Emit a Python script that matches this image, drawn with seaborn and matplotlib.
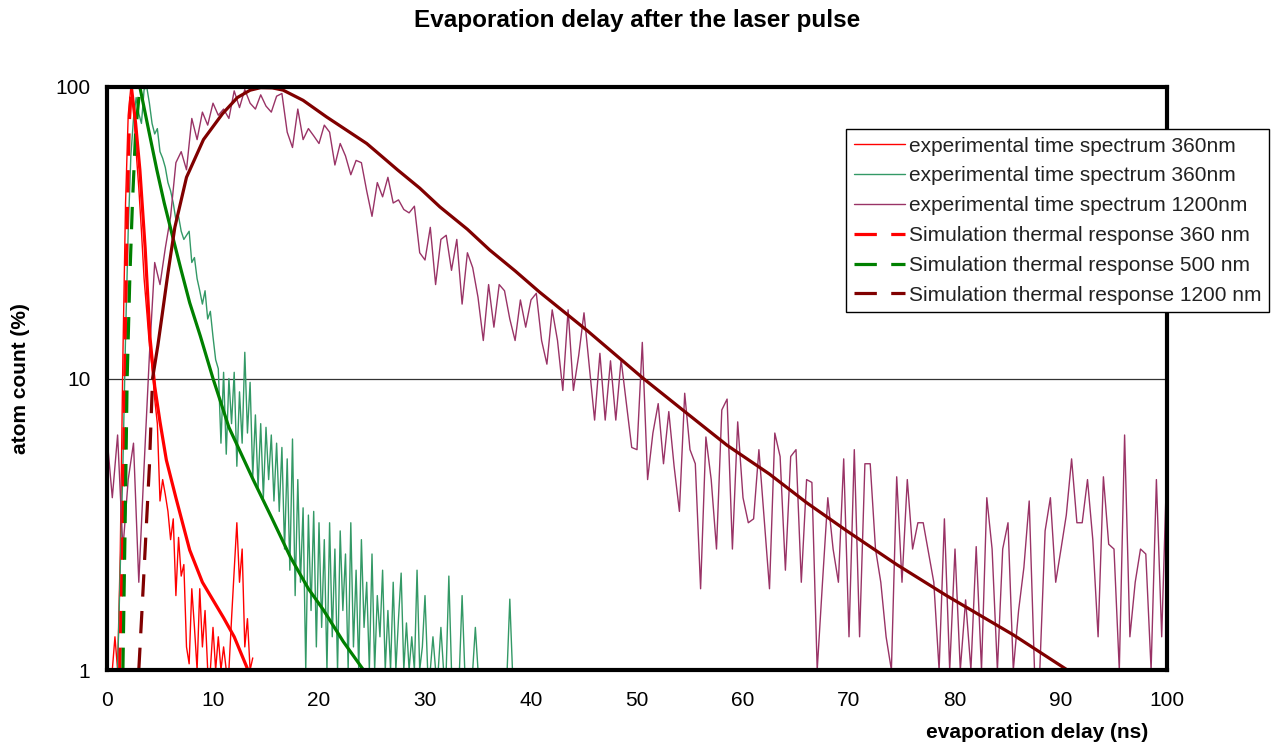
import numpy as np
import pandas as pd
import matplotlib
matplotlib.use("Agg")
import matplotlib.pyplot as plt
import seaborn as sns
from matplotlib.ticker import MultipleLocator, FuncFormatter, FixedLocator, NullLocator

# ---------------- data ----------------
nan = np.nan
# experimental time spectrum 360nm (red), 0.25 ns bins from 0 ns
t_red = np.arange(0, 13.76, 0.25)
exp_red = [nan, nan, 1.0, 1.3,
           1.0, 2.5, 12, 40,
           80, 100, 85, 60,
           45, 32, 22, 17,
           13, 11, 8.5, 7.0,
           3.8, 4.5, 4.0, 3.5,
           2.8, 3.3, 1.8, 2.85,
           2.1, 2.3, 1.2, 1.05,
           1.9, 1.4, 1.0, 1.9,
           1.2, 1.6, 1.0, 1.0,
           1.4, 1.0, 1.3, 1.0,
           1.2, 1.0, 1.0, 1.5,
           2.2, 3.2, 2.0, 2.6,
           1.2, 1.5, 1.0, 1.1]

# experimental time spectrum (green), 0.25 ns bins from 0 ns
t_green = np.arange(0, 38.51, 0.25)
exp_green = [nan, nan, nan, nan,
             1.0, 2.2, 5, 14,
             32, 58, 78, 92,
             81, 75, 98, 100,
             88, 75, 69, 72,
             60, 57, 53, 47,
             44, 40, 35, 36,
             32, 30, 31, 32,
             25, 26, 22, 20,
             18, 20, 16, 17,
             13.9, 11.6, 10.8, 6.0,
             10.5, 5.5, 10, 7,
             10.5, 5.0, 9.0, 6,
             12.3, 6.5, 9.7, 4.6,
             7.5, 4.2, 7.0, 3.9,
             6.8, 4.5, 6.4, 3.8,
             6.0, 3.5, 5.8, 2.6,
             5.3, 2.2, 6.2, 1.8,
             4.5, 2.0, 3.6, 1.0,
             3.4, 1.6, 3.5, 1.2,
             3.2, 1.4, 2.8, 1.0,
             3.2, 1.3, 2.6, 1.0,
             3.0, 1.6, 2.5, 1.0,
             3.2, 1.2, 2.2, 1.0,
             2.8, 1.4, 2.0, 1.0,
             2.5, 1.0, 1.8, 1.3,
             2.2, 1.0, 1.6, 1.0,
             2.0, 1.0, 1.5, 2.15,
             1.0, 1.45, 1.0, 1.3,
             1.0, 2.2, 1.0, 1.2,
             1.8, 1.0, 1.0, 1.3,
             1.0, 1.0, 1.4, 1.0,
             1.0, 2.1, 1.0, 1.0,
             1.0, 1.0, 1.8, 1.0,
             1.0, 1.0, 1.0, 1.4,
             1.0, 1.0, 1.0, 1.0,
             1.0, 1.0, 1.0, 1.0,
             1.0, 1.0, 1.0, 1.0,
             1.75, 1.0, 1.0]

# experimental time spectrum 1200nm (purple), 0.5 ns bins from 0 ns
t_mag = np.arange(0, 100.01, 0.5)
exp_mag = [6.3, 3.9, 6.4, 2.6, 4.5, 6.0, 2.0, 5.0, 12, 25,
           21, 28, 36, 55, 60, 52, 78, 66, 82, 74, 88,
           80, 84, 78, 97, 85, 98, 88, 84, 94, 86,
           82, 93, 95, 70, 62, 84, 66, 72, 68, 64,
           74, 70, 54, 64, 58, 50, 56, 55, 44, 36,
           47, 42, 49, 40, 41, 38, 37, 39, 27, 25.5,
           33, 21, 30, 31, 23.5, 30, 18, 27, 24, 19,
           13.5, 21, 15, 21, 20, 16, 13.5, 18.6, 15, 18.6,
           19.6, 13.5, 11.2, 17.2, 13.5, 9.1, 17.2, 9.1, 12, 16.8,
           11, 7.2, 12.2, 7.2, 11.5, 7.2, 11.6, 8.2, 5.8, 5.7,
           13.3, 4.5, 6.5, 8.2, 5.1, 7.7, 5.0, 3.5, 8.9, 5.7,
           5.1, 1.9, 6.3, 4.5, 2.6, 7.8, 8.5, 2.6, 7.1, 3.9,
           3.2, 3.3, 5.7, 3.3, 1.9, 6.5, 5.4, 2.2, 5.4, 5.7,
           2.0, 4.5, 4.4, 1.0, 2.0, 3.9, 2.6, 2.0, 5.3, 1.3,
           5.7, 1.3, 5.1, 5.1, 2.6, 2.0, 1.3, 1.0, 4.6, 2.0,
           4.5, 2.6, 3.2, 3.2, nan, 2.0, 1.0, 3.3, 1.0, 2.6,
           1.0, 1.74, 1.0, 2.65, 1.0, 3.9, 2.6, 1.0, 2.6, 3.2,
           1.0, 1.6, 2.25, 3.8, 1.0, 1.0, 3.0, 3.9, 2.0, 2.6,
           3.4, 5.3, 3.2, 3.2, 4.5, 2.8, 1.3, 4.6, 2.7, 2.6,
           1.0, 6.4, 1.3, 2.0, 2.6, 2.5, 1.0, 4.5, 1.3, 5.3]

# simulated thermal responses: rising edge and decay
sim360_rise_t = [1.2, 1.5, 1.7, 1.9, 2.1, 2.3]
sim360_rise_v = [1, 3, 12, 35, 75, 100]
sim360_dec_t = [2.3, 2.7, 3.1, 3.6, 4.05, 4.5, 5.0, 5.6, 6.5, 7.8, 9.0, 11.0, 12.0, 13.3]
sim360_dec_v = [100, 75, 52, 28, 13.9, 9.4, 7.1, 5.25, 3.9, 2.58, 2.0, 1.51, 1.3, 1.0]

sim500_rise_t = [1.5, 1.7, 1.9, 2.15, 2.4, 2.7, 3.1]
sim500_rise_v = [1, 3, 10, 22, 40, 70, 100]
sim500_dec_t = [3.1, 3.9, 4.7, 5.4, 6.2, 7.0, 7.8, 8.8, 10.0, 11.5, 13.8, 15.5, 17.3, 19.0, 20.4, 22.3, 24.2]
sim500_dec_v = [100, 72, 52, 40, 30.6, 23.5, 18.2, 14, 10, 6.8, 4.49, 3.35, 2.44, 1.9, 1.61, 1.25, 1.0]

sim1200_rise_t = [3.0, 3.3, 3.6, 4.0, 4.3]
sim1200_rise_v = [1, 1.6, 2.6, 5, 10]
sim1200_dec_t = [4.3, 4.8, 5.2, 5.75, 6.4, 7.5, 9.1, 10.9, 12.3, 13.5, 14.5, 15.6, 16.6, 18.5,
                 20.7, 22.5, 24.5, 26.0, 27.4, 29.5, 31.4, 34.0, 36.1, 38.5, 40.8, 45.3, 50.6,
                 54.7, 58.5, 62.5, 66.0, 69.8, 74.5, 79.2, 85.5, 90.6]
sim1200_dec_v = [10, 13, 16.5, 23, 33, 49, 66, 81, 92, 97.5, 99.5, 99.3, 97.6, 90,
                 79, 71.5, 64, 57.5, 52, 45, 38.8, 32.5, 27.6, 23.4, 19.8, 14.6, 10.0,
                 7.6, 5.9, 4.7, 3.75, 3.0, 2.3, 1.8, 1.32, 1.0]

labels = ["experimental time spectrum 360nm",
          "experimental time spectrum 360nm",
          "experimental time spectrum 1200nm",
          "Simulation thermal response 360 nm",
          "Simulation thermal response 500 nm",
          "Simulation thermal response 1200 nm"]
x_ticks_major = 5
y_ticks = [1, 10, 100]

# ---------------- style ----------------
sns.set_style("white")
plt.rcParams["font.family"] = ["Liberation Sans", "DejaVu Sans"]
plt.rcParams["text.color"] = "black"
plt.rcParams["axes.labelcolor"] = "black"

fig = plt.figure(figsize=(12.74, 7.42), dpi=100)
ax = fig.add_axes([107 / 1274, 1 - 670 / 742, 1060 / 1274, 583 / 742])

c_red = "#FF0000"
c_green_exp = "#339966"
c_mag = "#993366"
c_green = "#008000"
c_dred = "#800000"
dash = (0, (7, 4.5))

def line(x, y, color, lw, label="_nolegend_", ls="-", z=2):
    sns.lineplot(x=np.asarray(x, float), y=np.asarray(y, float), ax=ax, color=color,
                 linewidth=lw, estimator=None, sort=False, label=label,
                 linestyle=ls, zorder=z, legend=False)

line(t_red, exp_red, c_red, 1.0, labels[0])
line(t_green, exp_green, c_green_exp, 1.0, labels[1])
line(t_mag, exp_mag, c_mag, 1.0, labels[2])

line(sim360_rise_t, sim360_rise_v, c_red, 2.3, labels[3], dash, 3)
line(sim500_rise_t, sim500_rise_v, c_green, 2.3, labels[4], dash, 3)
line(sim1200_rise_t, sim1200_rise_v, c_dred, 2.3, labels[5], dash, 3)
line(sim360_dec_t, sim360_dec_v, c_red, 2.3, z=3)
line(sim500_dec_t, sim500_dec_v, c_green, 2.3, z=3)
line(sim1200_dec_t, sim1200_dec_v, c_dred, 2.3, z=3)

ax.set_yscale("log")
ax.set_ylim(1, 100)
ax.set_xlim(0, 100)
ax.yaxis.set_major_locator(FixedLocator(y_ticks))
ax.yaxis.set_minor_locator(NullLocator())
ax.yaxis.set_major_formatter(FuncFormatter(lambda v, p: f"{v:g}"))
ax.xaxis.set_major_locator(MultipleLocator(x_ticks_major))
ax.xaxis.set_major_formatter(FuncFormatter(lambda v, p: f"{v:g}" if round(v) % 10 == 0 else ""))

ax.grid(False)
ax.yaxis.grid(True, color="#333333", linewidth=0.9)
ax.set_axisbelow(True)
for s in ax.spines.values():
    s.set_visible(True)
    s.set_color("black")
    s.set_linewidth(3)
    s.set_zorder(4)

ax.tick_params(axis="both", direction="inout", length=10, width=3, color="black",
               labelsize=15, labelcolor="black")
ax.tick_params(axis="x", pad=10)
ax.tick_params(axis="y", pad=7)

ax.set_xlabel("evaporation delay (ns)", fontsize=15, fontweight="bold")
ax.xaxis.set_label_coords((1037 - 107) / 1060, (670 - 732) / 583)
ax.xaxis.label.set_va("center")
ax.set_ylabel("atom count (%)", fontsize=15, fontweight="bold")
ax.yaxis.set_label_coords((21 - 107) / 1060, 0.5)
ax.yaxis.label.set_va("center")

fig.suptitle("Evaporation delay after the laser pulse", x=0.5, y=1 - 20 / 742,
             va="center", fontsize=17.5, fontweight="bold", color="black")

handles, labs = ax.get_legend_handles_labels()
leg = ax.legend(handles, labs, loc="upper left", bbox_to_anchor=(846 / 1274, 1 - 129 / 742),
                bbox_transform=fig.transFigure, fontsize=15.0, frameon=True, fancybox=False,
                edgecolor="black", framealpha=1, handlelength=2.45, handletextpad=0.2,
                borderpad=0.36, labelspacing=0.52, borderaxespad=0)
leg.get_frame().set_linewidth(1.0)
leg.set_zorder(10)
for t in leg.get_texts():
    t.set_color("#222222")

fig.savefig("out.png", dpi=100, facecolor="white")
